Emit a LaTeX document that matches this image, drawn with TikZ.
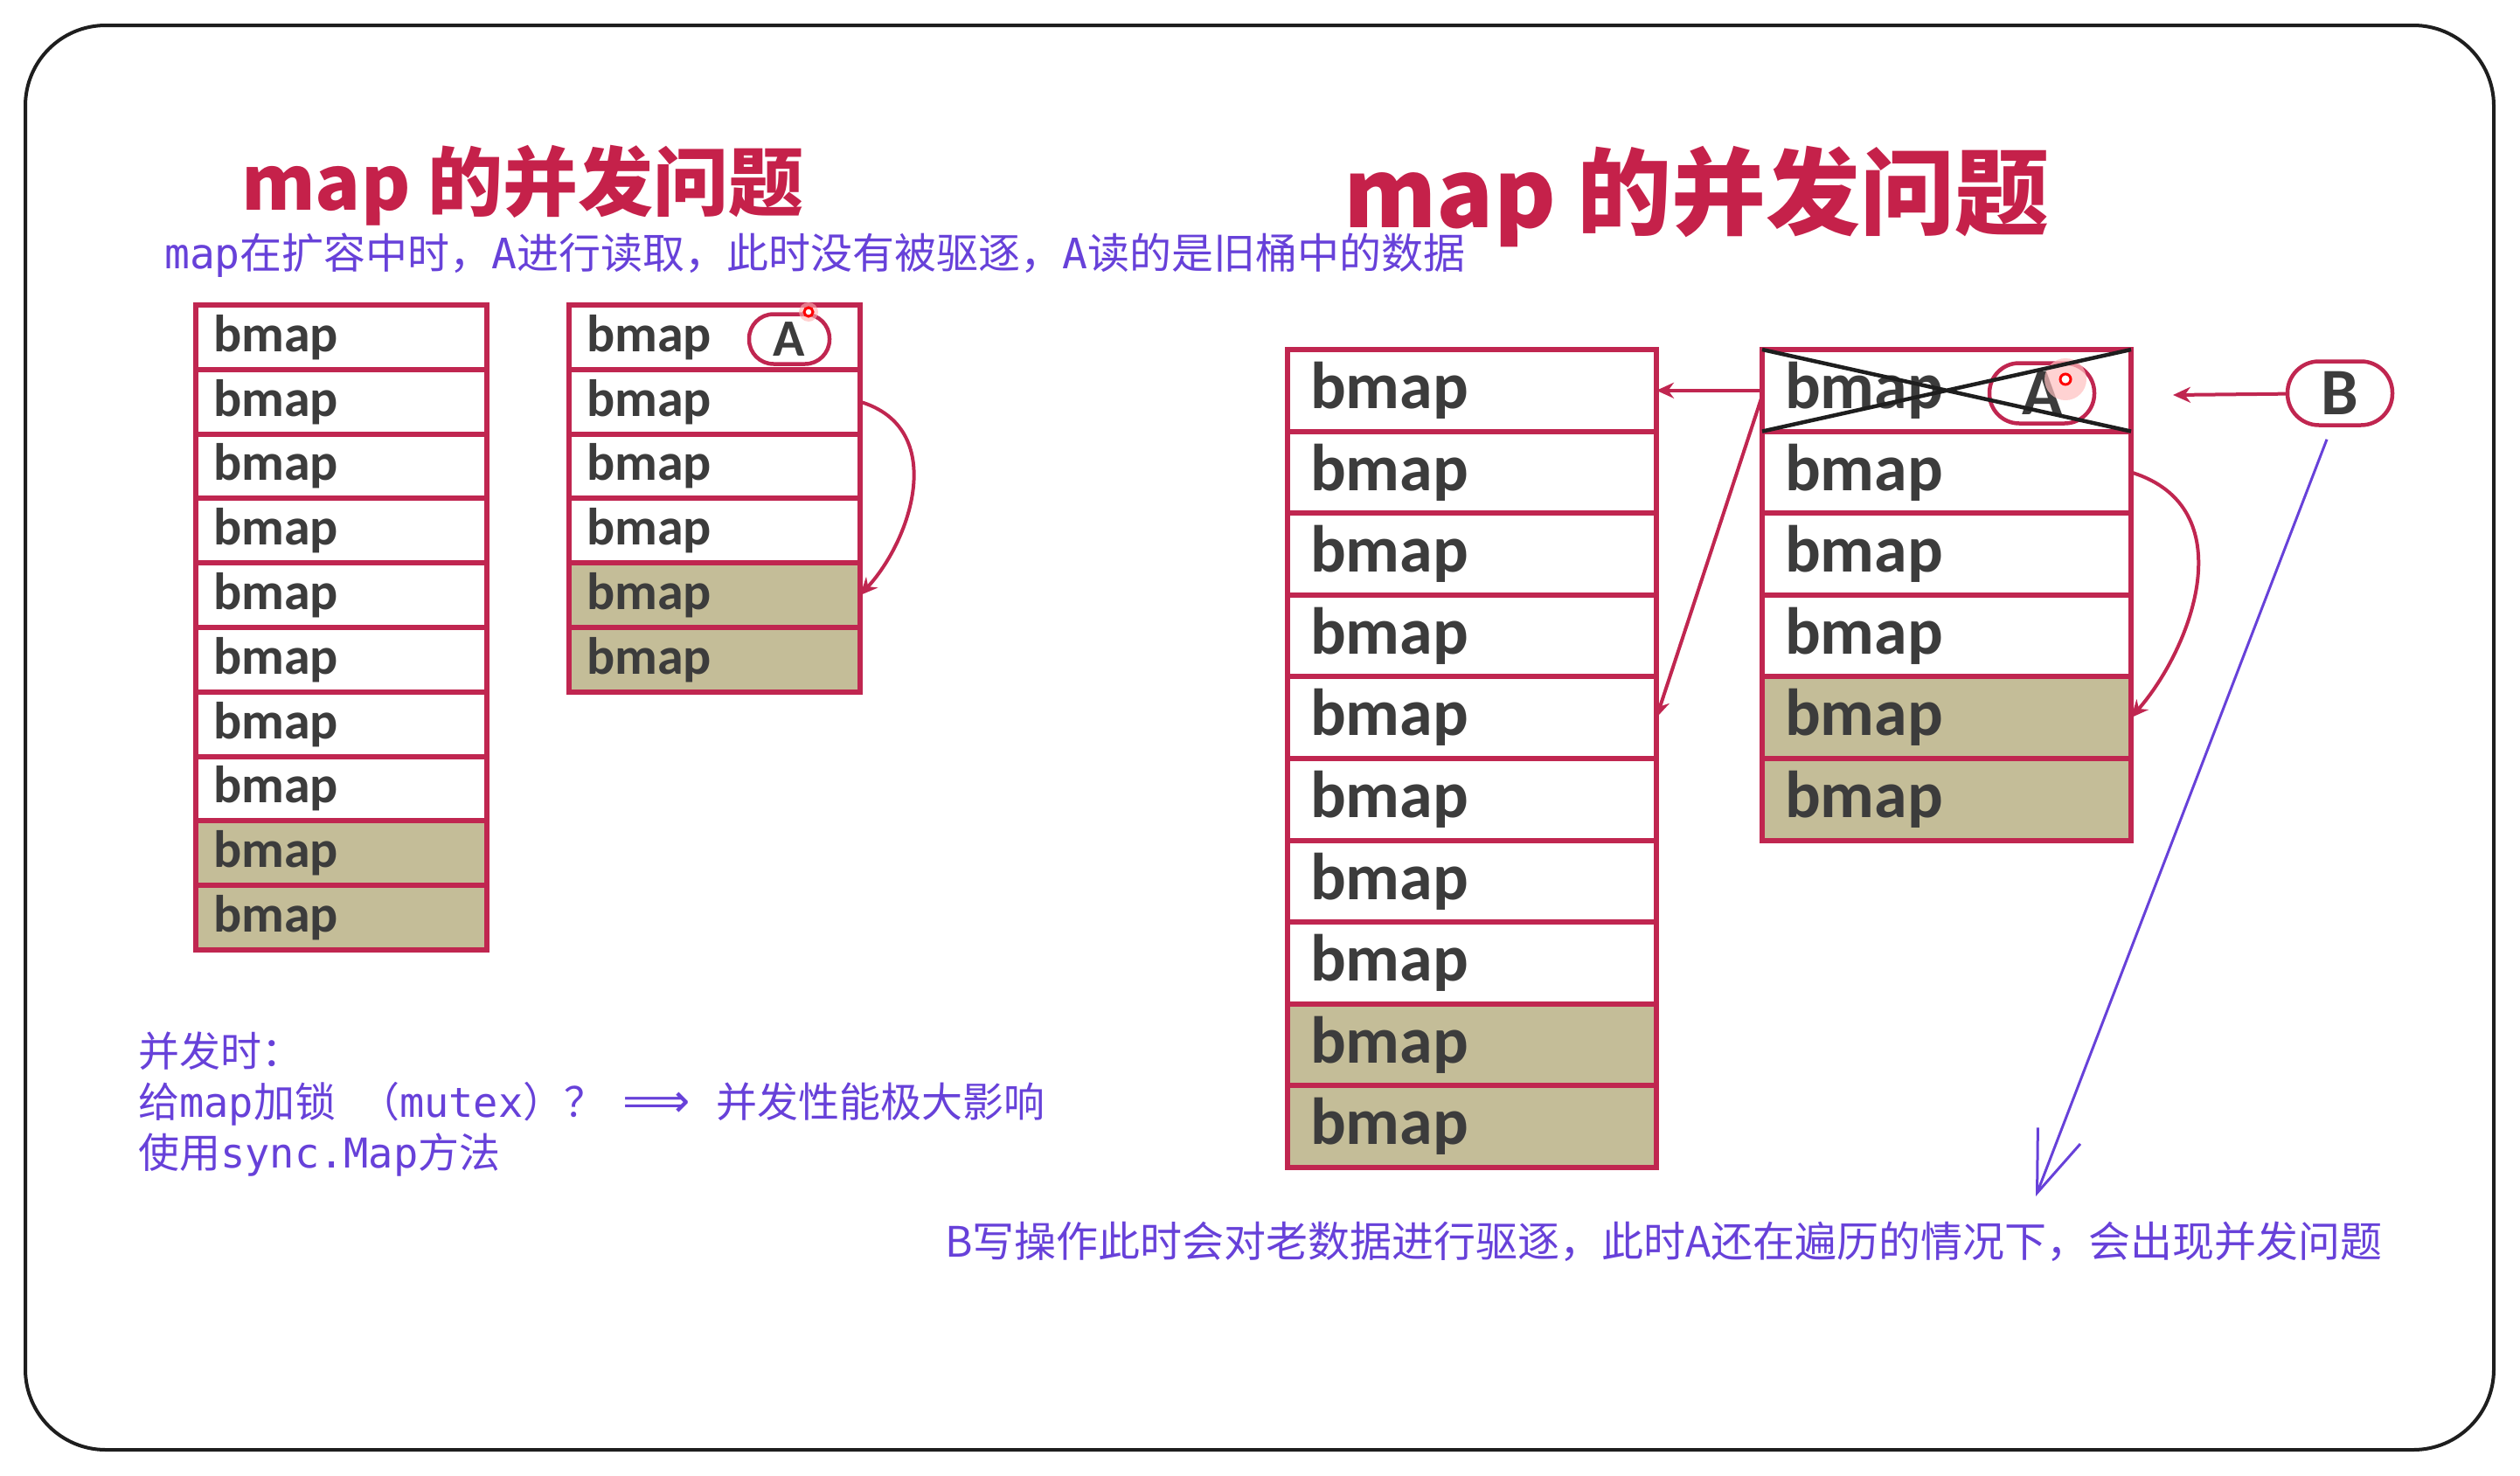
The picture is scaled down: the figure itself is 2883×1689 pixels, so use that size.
\documentclass[tikz,border=0pt]{standalone}
\usepackage{fontspec}
\setmainfont{Carlito}
\setmonofont{DejaVu Sans Mono}
\newfontfamily\cjk{Noto Sans CJK SC}
\newfontfamily\djv{DejaVu Sans}
\usetikzlibrary{arrows.meta}
\definecolor{crim}{RGB}{192,38,80}
\definecolor{titlered}{RGB}{197,33,74}
\definecolor{oldtan}{RGB}{196,189,152}
\definecolor{ink}{RGB}{60,60,60}
\definecolor{notecol}{RGB}{103,65,217}
\definecolor{framecol}{RGB}{30,30,30}
\tikzset{
  bucket/.style={draw=crim, line width=6pt, fill=white, anchor=north west, inner sep=0pt, outer sep=0pt,
    text=ink, align=left, font=\bfseries\fontsize{60pt}{66pt}\selectfont,
    minimum width=333pt, minimum height=73.8pt, text width=293pt},
  bigbucket/.style={bucket, font=\bfseries\fontsize{76pt}{84pt}\selectfont,
    minimum width=422pt, minimum height=93.6pt, text width=370pt},
  old/.style={fill=oldtan},
  pill/.style={draw=crim, line width=4.5pt, fill=white, text=ink, inner sep=0pt},
  rarrow/.style={draw=crim, line width=4pt, -{Stealth[length=20pt,width=18pt]}},
  varrow/.style={draw=notecol, line width=3pt, -{Straight Barb[length=70pt,width=52pt]}},
  note/.style={text=notecol, inner sep=0pt, anchor=west, font=\cjk\fontsize{48pt}{58pt}\selectfont},
  heading/.style={text=titlered, inner sep=0pt, anchor=west},
}
\begin{document}
\begin{tikzpicture}[x=1pt,y=-1pt]
    \useasboundingbox (0,0) rectangle (2883,1689);
    \draw[framecol, line width=4pt, rounded corners=92pt] (29,29) rectangle (2853,1659);

    % titles and notes
    \node[heading, font=\cjk\bfseries\fontsize{86pt}{90pt}\selectfont] (ltitle) at (276,212) {map 的并发问题};
    \node[heading, font=\cjk\bfseries\fontsize{108pt}{112pt}\selectfont] (rtitle) at (1537,225) {map 的并发问题};
    \node[note] (lnote) at (188,292) {\texttt{map}在扩容中时，\texttt{A}进行读取，此时没有被驱逐，\texttt{A}读的是旧桶中的数据};
    \node[note, align=left, font=\cjk\fontsize{47pt}{58pt}\selectfont] (tips) at (158,1264)
      {并发时：\\给\texttt{map}加锁\hspace{26pt}（\texttt{mutex}）？\hspace{20pt}{\djv\fontsize{54pt}{58pt}\selectfont ⟹}\hspace{30pt}并发性能极大影响\\使用\texttt{sync.Map}方法};
    \node[note] (bnote) at (1081,1421) {B写操作此时会对老数据进行驱逐，此时A还在遍历的情况下，会出现并发问题};

    % left: buckets
    \foreach \i in {1,...,8} \node[bucket] (la-\i) at (224,{349+(\i-1)*73.8}) {bmap};
    \foreach \i in {9,10} \node[bucket,old] (la-\i) at (224,{349+(\i-1)*73.8}) {bmap};
    \foreach \i in {1,...,4} \node[bucket] (lb-\i) at (651,{349+(\i-1)*73.8}) {bmap};
    \foreach \i in {5,6} \node[bucket,old] (lb-\i) at (651,{349+(\i-1)*73.8}) {bmap};
    \node[pill, minimum width=92pt, minimum height=57pt, rounded corners=28pt,
      font=\bfseries\fontsize{60pt}{66pt}\selectfont] (la) at (903,388) {A};
    \fill[red!30, opacity=.6] (925,357) circle (11pt);
    \filldraw[draw=red, fill=white, line width=3pt] (925,357) circle (5pt);
    \draw[rarrow] (lb-2.east) .. controls +(100,30) and +(60,-65) .. (lb-5.east);

    % right: buckets
    \foreach \i in {1,...,8} \node[bigbucket] (ra-\i) at (1473,{400+(\i-1)*93.6}) {bmap};
    \foreach \i in {9,10} \node[bigbucket,old] (ra-\i) at (1473,{400+(\i-1)*93.6}) {bmap};
    \foreach \i in {1,...,4} \node[bigbucket] (rb-\i) at (2016,{400+(\i-1)*93.6}) {bmap};
    \foreach \i in {5,6} \node[bigbucket,old] (rb-\i) at (2016,{400+(\i-1)*93.6}) {bmap};
    \node[pill, minimum width=120pt, minimum height=69pt, rounded corners=34pt,
      font=\bfseries\fontsize{76pt}{84pt}\selectfont] (ra) at (2336,450) {A};
    \fill[red!25, opacity=.7] (2363,434) circle (24pt);
    \filldraw[draw=red, fill=white, line width=3pt] (2363,434) circle (6pt);
    \draw[framecol, line width=4.5pt] (rb-1.north west) -- (rb-1.south east) (rb-1.north east) -- (rb-1.south west);
    \draw[rarrow] (rb-2.east) .. controls +(130,40) and +(70,-80) .. (rb-5.east);
    \draw[rarrow] (rb-1.west) -- (ra-1.east);
    \draw[rarrow] ([yshift=-6pt]rb-1.west) -- (ra-5.east);

    % writer B
    \node[pill, minimum width=120pt, minimum height=73pt, rounded corners=36pt,
      font=\bfseries\fontsize{76pt}{84pt}\selectfont] (B) at (2677,450) {B};
    \coordinate (bend) at (2486,452);
    \draw[rarrow] (B) -- (bend);
    \coordinate (btip) at (2329,1369);
    \draw[varrow] ([xshift=-15pt,yshift=-14pt]B.south) -- (btip);

\end{tikzpicture}
\end{document}
